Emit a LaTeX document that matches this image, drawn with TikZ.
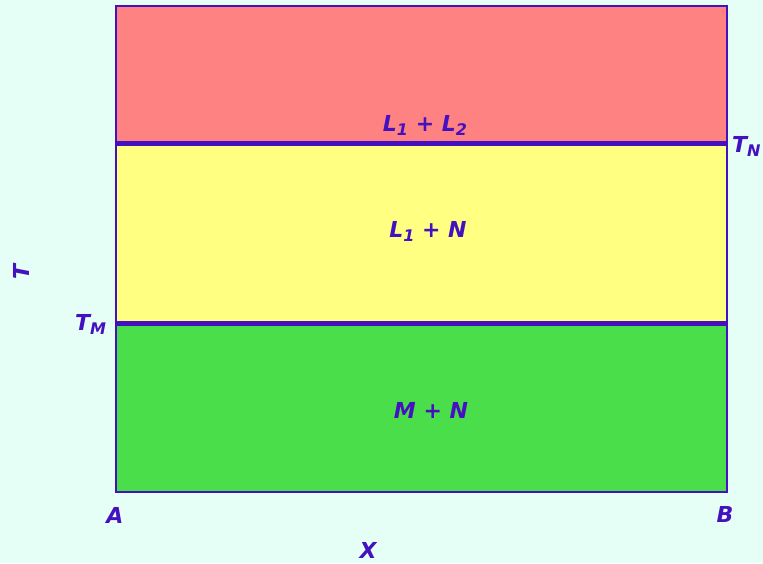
\documentclass[tikz,border=0pt]{standalone}
\usepackage{fontspec}
\setmainfont{DejaVu Sans}
\usetikzlibrary{positioning}
\definecolor{bgmint}{HTML}{E6FFF6}
\definecolor{inkblue}{HTML}{4510C0}
\definecolor{liqred}{HTML}{FF8282}
\definecolor{liqyellow}{HTML}{FFFF82}
\definecolor{solgreen}{HTML}{4ADE4A}
\newcommand{\lowsub}[1]{\raisebox{-0.35ex}{\fontsize{16}{16}\selectfont #1}}

\begin{document}
\begin{tikzpicture}[x=1pt, y=-1pt,
    lbl/.style={text=inkblue, inner sep=0pt, anchor=base, font=\fontsize{22}{22}\selectfont\bfseries\itshape}]
    \fill[bgmint] (0,0) rectangle (763,563);
    \useasboundingbox (0,0) rectangle (763,563);

    % phase regions
    \fill[liqred] (116,6) rectangle (727,143);
    \fill[liqyellow] (116,143) rectangle (727,323);
    \fill[solgreen] (116,323) rectangle (727,492);
    \draw[inkblue, line width=2pt] (116,6) rectangle (727,492);
    \draw[inkblue, line width=5pt] (116,143) -- (727,143);
    \draw[inkblue, line width=5pt] (116,323) -- (727,323);

    % labels
    \node[lbl] (l1l2) at (425,131) {L\lowsub{1} + L\lowsub{2}};
    \node[lbl] (l1n) at (428,237) {L\lowsub{1} + N};
    \node[lbl] (mn) at (431,418) {M + N};
    \node[lbl, anchor=base west] (tn) at (732,152) {T\lowsub{N}};
    \node[lbl, anchor=base west] (tm) at (75,330) {T\lowsub{M}};
    \node[lbl] (pa) at (115,523) {A};
    \node[lbl] (pb) at (725,522) {B};
    \node[lbl] (xax) at (368,558) {X};
    \node[lbl, anchor=center, rotate=90] (tax) at (21,272) {T};
\end{tikzpicture}
\end{document}
